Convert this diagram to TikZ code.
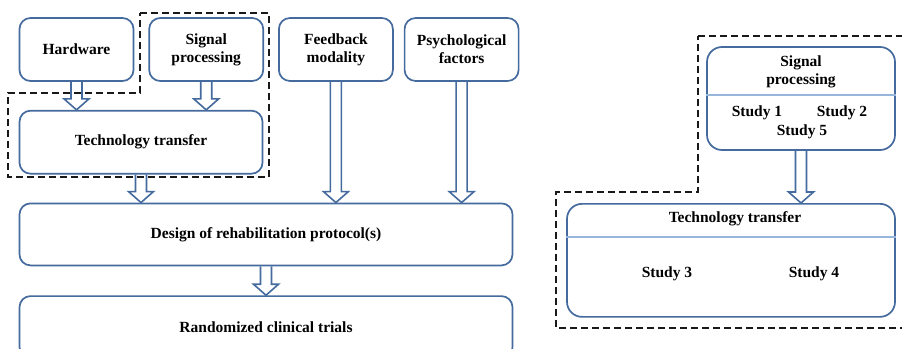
\documentclass[tikz,border=0pt]{standalone}
\usepackage{fontspec}
\setmainfont{Liberation Serif}
\usetikzlibrary{positioning,calc}
\definecolor{steel}{RGB}{68,106,158}
\definecolor{paleblue}{RGB}{150,182,220}
\tikzset{
  txt/.style={font=\bfseries\fontsize{15.5}{18}\selectfont,align=center,inner sep=0pt},
  box/.style={txt,rounded corners=11pt,draw=steel,line width=1.7pt,fill=white,
              minimum width=114pt,minimum height=63pt},
  widebox/.style={box,minimum width=493pt,minimum height=62pt,anchor=north west},
  sep/.style={draw=paleblue,line width=1.1pt},
  zone/.style={draw=black!90,dash pattern=on 7pt off 4pt,line width=1.6pt},
  hollow/.style={draw=steel,line width=1.6pt,
    to path={let \p1=(\tikztostart),\p2=(\tikztotarget) in
      (\x1-5.5pt,\y1) -- (\x1-5.5pt,\y2+11pt) -- (\x1-12.5pt,\y2+11pt) -- (\x1,\y2)
      -- (\x1+12.5pt,\y2+11pt) -- (\x1+5.5pt,\y2+11pt) -- (\x1+5.5pt,\y1)}}
}

\begin{document}
\begin{tikzpicture}[x=1pt,y=-1pt]
  \useasboundingbox (0,0) rectangle (902,348);
  \clip (0,0) rectangle (902,348);

  % left: development chain
  \node[box] (hw) at (76.5,49.5) {Hardware};
  \node[box,right=14pt of hw] (sp) {Signal\\processing};
  \node[box,right=14pt of sp] (fb) {Feedback\\modality};
  \node[box,right=10pt of fb] (psy) {Psychological\\factors};
  \node[box,minimum width=243pt,anchor=north west] (tt) at ([yshift=-28pt]hw.south west)
    {Technology transfer};
  \node[widebox] (dp) at ([yshift=-28pt]tt.south west) {Design of rehabilitation protocol(s)};
  \node[widebox] (rct) at ([yshift=-29pt]dp.south west) {Randomized clinical trials};

  \draw[hollow] (hw.south) to (hw.south |- tt.north);
  \draw[hollow] (sp.south) to (sp.south |- tt.north);
  \draw[hollow] (tt.south) to (tt.south |- dp.north);
  \draw[hollow] (fb.south) to (fb.south |- dp.north);
  \draw[hollow] (psy.south) to (psy.south |- dp.north);
  \draw[hollow] (dp.south) to (dp.south |- rct.north);

  \draw[zone] (140,13) -- (269,13) -- (269,177) -- (8,177) -- (8,93) -- (140,93) -- cycle;

  % right: studies
  \node[box,minimum width=188pt,minimum height=103pt,rounded corners=15pt] (rsp) at (801,98.5) {};
  \node[txt] (rsptitle) at (801,72) {Signal\\processing};
  \draw[sep] (rsp.west |- 0,95) -- (rsp.east |- 0,95);
  \node[txt] (s1) at (757,113) {Study 1};
  \node[txt] (s2) at (842,113) {Study 2};
  \node[txt] (s5) at (802,132) {Study 5};

  \node[box,minimum width=328pt,minimum height=113pt,rounded corners=15pt,anchor=north]
    (rtt) at (731,203) {};
  \node[txt] (rtttitle) at (735,219) {Technology transfer};
  \draw[sep] (rtt.west |- 0,237) -- (rtt.east |- 0,237);
  \node[txt] (s3) at (667,274) {Study 3};
  \node[txt] (s4) at (814,274) {Study 4};

  \draw[hollow] (rsp.south) to (rsp.south |- rtt.north);

  \draw[zone] (698,36) -- (915,36) -- (915,328) -- (556,328) -- (556,192) -- (698,192) -- cycle;
\end{tikzpicture}
\end{document}
